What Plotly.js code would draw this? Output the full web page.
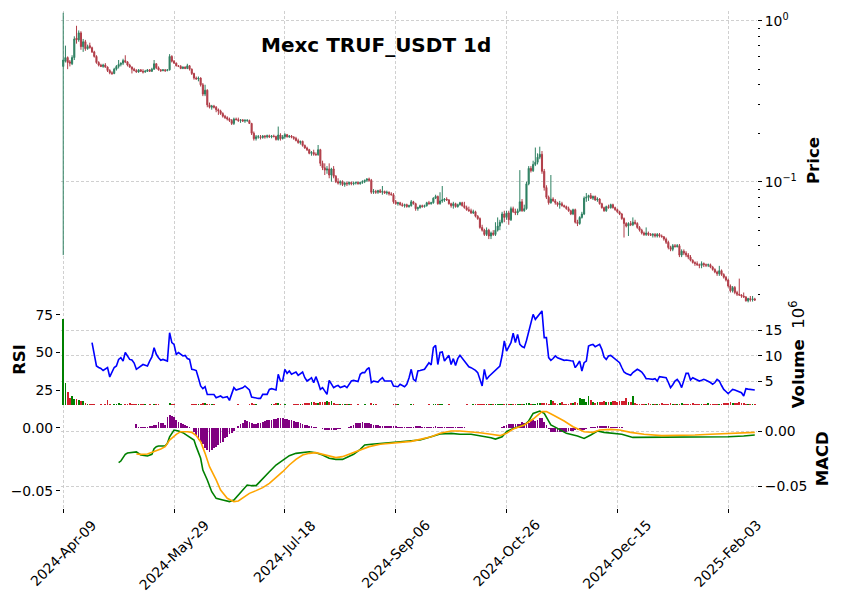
<!DOCTYPE html>
<html><head><meta charset="utf-8">
<script src="https://cdn.plot.ly/plotly-3.0.1.min.js"></script>
<style>html,body{margin:0;padding:0;background:#fff}#chart{width:841px;height:600px}</style>
</head><body><div id="chart"></div>
<script>
// ---------- data ----------
const tickDays = [0, 50, 100, 150, 200, 250, 300];
const tickLabels = ['2024-Apr-09','2024-May-29','2024-Jul-18','2024-Sep-06','2024-Oct-26','2024-Dec-15','2025-Feb-03'];

const opens = [
.52,.56,.59,.555,.54,.59,.78,.76,.84,.69,.74,.67,.70,.68,.64,.60,.55,.53,.52,.53,
.515,.49,.475,.47,.50,.52,.535,.545,.565,.555,.53,.515,.50,.49,.48,.495,.485,.48,.485,.495,
.485,.50,.54,.51,.495,.49,.495,.49,.495,.60,.56,.545,.525,.52,.505,.515,.505,.525,.50,.47,
.44,.435,.44,.40,.35,.37,.30,.29,.295,.29,.28,.275,.265,.255,.25,.245,.24,.23,.245,.243,
.24,.242,.238,.24,.24,.23,.20,.185,.19,.19,.188,.192,.19,.193,.19,.192,.191,.183,.195,.185,
.19,.196,.19,.192,.189,.186,.18,.175,.178,.168,.162,.158,.15,.152,.148,.147,.158,.13,.122,.118,
.12,.11,.12,.108,.10,.098,.10,.096,.098,.097,.099,.097,.098,.099,.097,.099,.10,.102,.104,.102,
.086,.087,.086,.088,.086,.087,.085,.086,.084,.083,.075,.073,.074,.072,.071,.072,.07,.071,.075,.073,
.068,.069,.071,.07,.071,.074,.073,.074,.079,.081,.073,.076,.077,.078,.077,.073,.071,.073,.07,.072,
.074,.071,.069,.067,.066,.064,.065,.061,.059,.052,.05,.047,.05,.046,.048,.047,.05,.053,.056,.063,
.06,.064,.058,.068,.065,.064,.066,.075,.066,.068,.097,.121,.117,.128,.132,.142,.148,.116,.092,.08,
.074,.078,.076,.074,.072,.073,.071,.07,.068,.066,.063,.067,.056,.055,.06,.063,.079,.08,.082,.079,
.081,.077,.078,.073,.069,.066,.07,.069,.072,.069,.067,.065,.063,.059,.055,.053,.055,.054,.056,.055,
.052,.05,.048,.047,.048,.047,.0465,.047,.046,.047,.046,.0455,.044,.042,.039,.038,.04,.0395,.04,.035,
.037,.036,.035,.034,.0325,.0315,.031,.0305,.0302,.031,.0305,.0303,.0305,.0295,.0285,.0275,.0268,.028,.0265,.0255,
.0245,.0225,.021,.022,.0205,.02,.0198,.0195,.0192,.0182,.0188,.0185,.0187];
const highs = [
1.12,.70,.60,.57,.61,.80,.93,.87,.86,.77,.76,.71,.73,.69,.65,.61,.56,.54,.54,.545,
.52,.50,.485,.51,.53,.57,.55,.58,.61,.56,.54,.52,.51,.50,.50,.50,.50,.495,.50,.50,
.51,.57,.545,.52,.50,.50,.50,.50,.62,.61,.57,.55,.53,.53,.52,.52,.54,.53,.505,.475,
.45,.45,.445,.41,.40,.375,.31,.30,.30,.295,.285,.28,.27,.26,.255,.25,.245,.25,.25,.25,
.245,.245,.245,.245,.243,.232,.205,.195,.195,.195,.195,.195,.196,.196,.195,.196,.193,.22,.20,.195,
.20,.198,.195,.195,.192,.19,.185,.18,.18,.17,.165,.16,.155,.158,.152,.169,.16,.135,.13,.125,
.13,.122,.125,.11,.105,.102,.102,.10,.10,.10,.10,.10,.10,.10,.10,.102,.103,.105,.106,.104,
.09,.089,.089,.09,.094,.088,.088,.087,.086,.085,.077,.075,.075,.074,.073,.073,.072,.077,.076,.074,
.07,.072,.072,.072,.075,.076,.075,.08,.083,.082,.086,.094,.079,.08,.078,.074,.075,.074,.073,.075,
.075,.075,.071,.07,.068,.067,.066,.062,.06,.054,.051,.052,.051,.049,.05,.056,.06,.058,.065,.066,
.066,.066,.07,.07,.068,.068,.118,.078,.072,.10,.125,.125,.135,.163,.15,.165,.155,.12,.095,.082,
.11,.08,.078,.075,.076,.075,.072,.071,.07,.067,.068,.068,.058,.061,.065,.081,.085,.083,.085,.082,
.082,.08,.079,.074,.07,.071,.072,.073,.073,.07,.068,.066,.064,.06,.056,.056,.057,.06,.058,.056,
.053,.051,.049,.052,.049,.048,.048,.048,.048,.048,.047,.046,.045,.043,.04,.041,.041,.041,.041,.038,
.038,.037,.036,.035,.033,.032,.032,.031,.032,.0315,.031,.031,.031,.03,.029,.028,.03,.0285,.027,.026,
.025,.023,.0225,.0225,.021,.025,.02,.0205,.0195,.019,.0195,.0195,.019];
const lows = [
.035,.55,.50,.52,.53,.57,.72,.74,.66,.64,.65,.66,.67,.63,.59,.54,.52,.515,.51,.51,
.48,.465,.46,.465,.49,.505,.52,.53,.545,.52,.51,.47,.485,.475,.475,.48,.47,.475,.48,.48,
.48,.495,.50,.49,.48,.485,.48,.485,.49,.55,.54,.52,.515,.50,.50,.50,.50,.49,.46,.43,
.43,.42,.39,.34,.34,.29,.285,.28,.285,.27,.26,.26,.25,.245,.24,.235,.225,.225,.24,.235,
.232,.235,.232,.235,.228,.195,.18,.18,.185,.183,.185,.185,.186,.187,.186,.188,.18,.18,.18,.183,
.185,.188,.187,.186,.182,.178,.172,.17,.165,.16,.155,.148,.145,.145,.145,.145,.125,.118,.11,.112,
.105,.10,.105,.098,.096,.095,.094,.093,.094,.095,.095,.095,.096,.096,.096,.097,.098,.10,.10,.084,
.084,.084,.084,.085,.083,.084,.083,.082,.082,.073,.072,.071,.071,.07,.069,.069,.069,.07,.072,.066,
.066,.068,.069,.069,.07,.072,.072,.073,.078,.072,.072,.074,.075,.076,.072,.069,.068,.069,.069,.071,
.07,.068,.066,.065,.063,.063,.06,.058,.051,.049,.046,.046,.044,.044,.046,.046,.049,.05,.055,.056,
.058,.054,.057,.064,.062,.062,.065,.065,.065,.067,.095,.114,.115,.125,.128,.138,.112,.088,.078,.072,
.073,.075,.072,.07,.068,.07,.069,.067,.065,.062,.062,.055,.053,.054,.059,.062,.075,.076,.078,.077,
.076,.075,.072,.068,.065,.065,.068,.068,.068,.066,.064,.062,.058,.045,.052,.046,.053,.053,.054,.051,
.049,.047,.046,.046,.046,.046,.045,.045,.045,.045,.045,.043,.041,.038,.037,.037,.039,.039,.034,.034,
.035,.034,.033,.032,.031,.03,.03,.029,.029,.0295,.0295,.0295,.029,.028,.027,.026,.026,.026,.025,.024,
.022,.0205,.0205,.02,.0195,.0195,.019,.019,.018,.0178,.018,.018,.0182];
const closes = [
.57,.59,.55,.545,.59,.77,.76,.84,.69,.74,.67,.69,.68,.64,.60,.55,.53,.52,.53,.515,
.49,.475,.47,.50,.52,.535,.545,.565,.555,.53,.515,.50,.49,.48,.495,.485,.48,.485,.495,.485,
.50,.54,.51,.495,.49,.495,.49,.495,.60,.56,.545,.525,.52,.505,.515,.505,.525,.50,.47,.44,
.435,.44,.40,.35,.37,.30,.29,.295,.29,.28,.275,.265,.255,.25,.245,.24,.23,.245,.243,.24,
.242,.238,.24,.24,.23,.20,.185,.19,.19,.188,.192,.19,.193,.19,.192,.191,.183,.195,.185,.19,
.196,.19,.192,.189,.186,.18,.175,.178,.168,.162,.158,.15,.152,.148,.147,.158,.13,.122,.118,.12,
.11,.12,.108,.10,.098,.10,.096,.098,.097,.099,.097,.098,.099,.097,.099,.10,.102,.104,.102,.086,
.087,.086,.088,.086,.087,.085,.086,.084,.083,.075,.073,.074,.072,.071,.072,.07,.071,.075,.073,.068,
.069,.071,.07,.071,.074,.073,.074,.079,.081,.073,.076,.077,.078,.077,.073,.071,.073,.07,.072,.074,
.071,.069,.067,.066,.064,.065,.061,.059,.052,.05,.047,.05,.046,.048,.047,.05,.053,.056,.063,.06,
.064,.058,.068,.065,.064,.066,.075,.066,.068,.097,.121,.117,.128,.132,.142,.148,.116,.092,.08,.074,
.078,.076,.074,.072,.073,.071,.07,.068,.066,.063,.067,.056,.055,.06,.063,.079,.08,.082,.079,.081,
.077,.078,.073,.069,.066,.07,.069,.072,.069,.067,.065,.063,.059,.055,.053,.055,.054,.056,.055,.052,
.05,.048,.047,.048,.047,.0465,.047,.046,.047,.046,.0455,.044,.042,.039,.038,.04,.0395,.04,.035,.037,
.036,.035,.034,.0325,.0315,.031,.0305,.0302,.031,.0305,.0303,.0305,.0295,.0285,.0275,.0268,.028,.0265,.0255,.0245,
.0225,.021,.022,.0205,.02,.0198,.0195,.0192,.0182,.0188,.0185,.0187,.0184];

const volumeM = [
17.3,4.7,2.9,1.6,2.1,1.4,1.5,1.2,1.0,1.0,0.6,0.5,0.45,
0.4,0.35,0.3,0.3,0.35,0.3,0.4,1.2,0.5,0.3,0.35,0.5,0.6,0.35,0.3,0.5,0.45,0.6,0.35,0.4,0.35,0.5,0.4,0.35,0.45,0.3,0.35,0.3,
0.4,0.5,0.35,0.3,0.28,0.3,0.3,0.6,0.45,0.35,0.3,0.28,0.3,0.3,0.28,0.3,0.3,0.35,0.4,0.35,0.45,0.5,0.6,0.55,0.5,0.45,0.4,0.35,0.3,0.28,0.3,0.3,0.28,0.3,0.3,0.28,0.3,0.3,0.35,0.3,
0.3,0.28,0.3,0.35,0.55,0.5,0.35,0.3,0.28,0.3,0.3,0.28,0.3,0.35,0.4,0.6,0.7,0.4,0.3,0.35,0.3,0.28,0.3,0.35,0.4,0.45,0.4,0.5,0.55,0.6,0.7,0.75,0.8,0.7,0.65,0.9,0.85,0.8,1.0,0.9,
1.0,0.6,0.5,0.45,0.4,0.35,0.4,0.35,0.4,0.35,0.3,0.3,0.35,0.3,0.3,0.35,0.3,0.3,0.6,0.4,0.35,0.3,0.3,0.28,0.3,0.3,0.28,0.3,0.5,0.4,0.35,0.3,0.28,0.3,0.3,0.28,0.35,0.4,0.3,0.3,
0.3,0.28,0.3,0.3,0.35,0.3,0.4,0.45,0.5,0.45,0.4,0.3,0.3,0.35,0.3,0.3,0.28,0.3,0.3,0.28,0.3,0.35,0.3,0.3,0.35,0.4,0.45,0.5,0.45,0.4,0.5,0.4,0.35,0.4,0.45,0.5,0.4,0.5,0.45,0.4,
0.45,0.5,0.4,0.35,0.4,0.5,0.45,0.4,0.6,0.7,0.5,0.45,0.5,0.6,0.55,0.6,0.7,0.6,0.5,1.2,1.0,0.6,0.5,0.6,0.8,0.5,0.45,0.5,0.6,0.7,0.8,0.7,1.6,1.4,1.4,0.8,2.0,1.3,0.8,0.7,
0.8,0.9,0.9,1.0,0.9,0.8,0.9,1.0,1.0,0.9,1.0,1.0,1.1,1.6,0.9,0.8,2.1,0.6,0.5,0.4,0.5,0.45,0.5,0.55,0.4,0.5,0.45,0.4,0.5,0.6,0.5,0.4,0.5,0.6,0.5,0.45,0.4,0.45,0.6,0.5,
0.45,0.4,0.5,0.6,0.45,0.4,0.5,0.45,0.4,0.5,0.6,0.5,0.45,0.4,0.5,0.45,0.5,0.6,0.7,0.7,0.8,0.7,0.6,0.7,0.8,0.6,0.7,0.5,0.4,0.5,0.45,0.4];

const rsiStart = 13;
const rsi = [
56.6,48,41,40,39.4,38,39,40,33.7,37, 40,41,45.4,46.6,44.3,50,47.5,45.4,45,43,
38.8,40,41,42,41.5,41,44.3,47,53.2,48.8, 46.5,44.8,45.4,45,44.3,63.2,56.6,55.4,48.8,50,
49,47.7,48.1,46,45.4,38.8,38.5,38,33,27.7, 25.9,27.2,22.1,22,22.1,22,19.9,20.5,21,19.9,
20.5,20.6,18.1,22,26.6,25,25.5,25.9,26.5,27.7, 26.5,25,20.3,20,19.4,19.4,19.4,22.1,22.1,22.1,
25.4,25.9,25.5,25,35.5,31,31,38.8,36.1,37.7, 35.5,36.2,37,34.8,36,37,33.2,31,32,33.2,
29.9,33.9,30,25.4,26.6,24,22.1,31.4,29,26.6, 27.5,28.1,26.6,27,27.7,26.6,29,31,31.4,31,
30.6,35.5,36.6,36.6,38.8,40,29.9,31,30.5,30.3, 32,33.2,31,31,31,31,27.7,27.5,27.2,28.8,
28,27.2,28.8,33,38.8,32.1,31,37.7,38,38.3, 38.8,41,43.2,41.7,53.2,54.8,42,50,50.3,44.3,
46.6,48.1,42,45.9,41.4,45.9,48.1,46,44.3,42, 40.5,39.9,39,38.1,36.6,32,27.7,38.8,32.1,34,
35.5,36.6,38,39.9,41,48,57.7,51,54,56.6, 62.8,56.6,62.1,55.4,54,53.2,58,63.2,69.9,75.4,
72.1,73.9,75.4,77.7,59.9,59.9,46.6,44.8,46,47.7, 46.5,45.9,45.3,44.8,45,45,44.5,44.3,39.9,42,
44.3,37.7,43.2,44.3,54.3,55,55.4,53.9,54.5,55.4, 52.1,47,45.4,47.7,48.1,47,45.9,44.5,43.2,40,
37,36,35.5,34.8,36.6,37.5,38.8,38,37,35, 32.6,32.5,32.3,32.1,32.6,31,33.9,33.5,33.3,33.2,
30,26.6,28.5,31,32.1,30,26.6,31,36.1,36.1, 31.7,33.2,32.5,31.5,31,31.5,32.1,31.5,31,30,
28.8,30,32.1,31,28,25.4,24,22.6,24,25.4, 25,24.3,23.8,23.2,21,25.9,25.6,25.3,25,25];

const macdDays = [25,26,27,28,29,30,32,33,35,38,40,41,42,43,46,47,48,50,52,54,56,59,60,62,63,65,67,69,72,75,77,79,81,83,85,87,88,90,93,96,99,102,105,108,111,114,117,120,123,126,128,131,134,136,139,143,148,152,157,161,166,170,175,179,184,188,193,195,198,200,203,208,210,212,215,217,220,223,227,232,235,238,241,244,248,252,257,262,270,277,285,292,300,307,312];
const macdVals = [-0.0288,-0.0273,-0.0242,-0.0212,-0.0200,-0.0197,-0.0194,-0.0190,-0.0218,-0.0227,-0.0212,-0.0160,-0.0142,-0.0136,-0.0136,-0.0112,-0.0052,0.0009,0.0,-0.0015,-0.0042,-0.0082,-0.0142,-0.0248,-0.0355,-0.0445,-0.0552,-0.0612,-0.0627,-0.0642,-0.0627,-0.0582,-0.0536,-0.0491,-0.0497,-0.0497,-0.0476,-0.043,-0.037,-0.0309,-0.0264,-0.0224,-0.0203,-0.0197,-0.0188,-0.0197,-0.0218,-0.0248,-0.0258,-0.0258,-0.0242,-0.0212,-0.0167,-0.0127,-0.0121,-0.0112,-0.0106,-0.0097,-0.0088,-0.0082,-0.0052,-0.0027,-0.0021,-0.003,-0.003,-0.0042,-0.0061,-0.0073,-0.0052,-0.0006,0.0024,0.0055,0.0091,0.016,0.0182,0.016,0.0055,0.0024,-0.0021,-0.0045,-0.0067,-0.0036,0.0,-0.0012,-0.0021,-0.003,-0.0058,-0.0058,-0.0058,-0.0058,-0.0052,-0.0052,-0.0052,-0.0045,-0.0036];
const signalDays = [33,35,38,41,44,46,48,51,53,56,58,60,62,64,66,69,71,74,77,79,81,84,87,90,93,96,99,102,105,108,111,114,117,120,123,126,129,132,135,138,143,148,152,157,161,166,170,175,179,184,188,193,197,200,203,208,212,216,218,221,226,230,235,239,242,247,251,256,262,270,277,285,292,300,307,312];
const signalVals = [-0.0209,-0.0212,-0.0209,-0.0188,-0.0164,-0.0142,-0.0082,-0.003,-0.0006,-0.0006,-0.0012,-0.0042,-0.0097,-0.0203,-0.0324,-0.0445,-0.0536,-0.0612,-0.0642,-0.0636,-0.0606,-0.0567,-0.0542,-0.0515,-0.0476,-0.0424,-0.037,-0.0309,-0.0258,-0.0218,-0.0203,-0.0197,-0.0212,-0.0233,-0.0242,-0.0233,-0.0212,-0.0188,-0.0167,-0.0142,-0.0121,-0.0112,-0.0103,-0.0094,-0.0076,-0.0052,-0.0021,0.0,0.0,-0.0006,-0.0015,-0.003,-0.0042,-0.0021,0.0018,0.0055,0.0109,0.0176,0.0176,0.0145,0.0091,0.0039,-0.0006,-0.0012,0.0009,0.0015,0.0009,-0.0012,-0.003,-0.0042,-0.0042,-0.0036,-0.003,-0.0024,-0.0015,-0.0012];

const histStart = 33;
const hist = [
.0029,.0005,.0005,.0004,.0005,.0006,.001,.0015,.002,.002,
.0048,.0034,.0034,.002,.0087,.0100,.0095,.0087,.006,.0048,
.0035,.0026,.002,.0016,.0008,-.0005,-.0035,-.0058,-.0098,-.0115,
-.0132,-.0164,-.018,-.019,-.0177,-.016,-.0151,-.0135,-.0124,-.011,
-.0085,-.007,-.0053,-.004,-.0026,-.0005,.0015,.0026,.004,.006,
.0055,.0048,.0035,.0026,.003,.0034,.004,.0048,.0052,.0058,
.006,.0065,.0069,.0072,.0074,.0074,.0074,.0072,.0069,.0065,
.006,.0055,.0048,.0042,.0034,.003,.0025,.002,.0015,.0011,
.0008,.0004,0,-.0005,-.001,-.0015,-.0019,-.002,-.002,-.0019,
-.0016,-.0013,-.001,-.0006,-.0003,0,.0008,.0016,.0025,.0034,
.0038,.0041,.0042,.0041,.0038,.0034,.003,.0025,.002,.0018,
.0015,.0013,.0012,.0011,.001,.001,.001,.001,.0009,.0009,
.0009,.0009,.0008,.0008,.0008,.0009,.001,.001,.001,.0009,
.0009,.0008,.0008,.0008,.0009,.001,.0009,.0008,.0007,.0006,
.0005,.0005,.0005,.0005,.0005,.0004,.0004,.0003,.0002,.0001,
-.0002,-.0003,-.0004,-.0004,-.0004,-.0005,-.0005,-.0004,-.0004,-.0005,
-.0005,-.0005,-.0004,-.0003,-.0002,.0005,.0016,.002,.0026,.0026,
.0026,.003,.0026,.003,.0042,.004,.0045,.004,.006,.006,
.0055,.006,.0074,.0074,.0048,.002,-.001,-.0032,-.0035,-.0037,
-.0037,-.0037,-.0035,-.0033,-.003,-.0028,-.0026,-.0024,-.0022,-.002,
-.0019,-.0019,-.0015,-.001,-.0005,.0005,.0008,.0008,.001,.0014,
.0016,.0016,.0016,.0012,.0008,.0005,.0005,.0004,.0004,.0003,
-.0003,-.0005,-.0005,-.0005,-.0005,-.0005,-.0005,-.0005,-.0005,-.0005,
-.0005,-.0005,-.0005,-.0005,-.0004,-.0003];

// ---------- chart ----------
const UP = '#2e8062', DOWN = '#b13d48';
const VUP = '#008000', VDOWN = '#d0202c';
const days = closes.map((_, i) => i);
const rsiDays = rsi.map((_, i) => i + rsiStart);
const histDays = hist.map((_, i) => i + histStart);
const volColors = days.map(i => closes[i] >= opens[i] ? VUP : VDOWN);

const FONT = 'DejaVu Sans';
const GRID = '#c4c4c4';
const TICK_SIZE = 13.9;
const tickFont = {family: FONT, size: TICK_SIZE, color: '#000'};
const labelFont = {family: FONT, size: 16.5, color: '#000'};

const traces = [
  {type: 'candlestick', x: days, open: opens, high: highs, low: lows, close: closes,
   xaxis: 'x', yaxis: 'y', whiskerwidth: 0,
   increasing: {line: {color: UP, width: 1}, fillcolor: UP},
   decreasing: {line: {color: DOWN, width: 1}, fillcolor: DOWN},
   hoverinfo: 'skip', showlegend: false},
  {type: 'bar', x: days, y: volumeM, xaxis: 'x2', yaxis: 'y2', width: 0.8,
   marker: {color: volColors, line: {width: 0}}, hoverinfo: 'skip', showlegend: false},
  {type: 'scatter', mode: 'lines', x: rsiDays, y: rsi, xaxis: 'x2', yaxis: 'y3',
   line: {color: '#0000ff', width: 1.6}, hoverinfo: 'skip', showlegend: false},
  {type: 'bar', x: histDays, y: hist, xaxis: 'x3', yaxis: 'y4', width: 0.8,
   marker: {color: '#800080', line: {width: 0}}, hoverinfo: 'skip', showlegend: false},
  {type: 'scatter', mode: 'lines', x: macdDays, y: macdVals, xaxis: 'x3', yaxis: 'y5',
   line: {color: '#008000', width: 1.6}, hoverinfo: 'skip', showlegend: false},
  {type: 'scatter', mode: 'lines', x: signalDays, y: signalVals, xaxis: 'x3', yaxis: 'y5',
   line: {color: '#ffa500', width: 1.6}, hoverinfo: 'skip', showlegend: false}
];

const xBase = {range: [-1, 313], tickvals: tickDays, showgrid: true, gridcolor: GRID, griddash: '3px,2px',
  gridwidth: 0.8, zeroline: false, showline: false, fixedrange: true, rangeslider: {visible: false}};
const minorPrice = [0.02,0.03,0.04,0.05,0.06,0.07,0.08,0.09,0.2,0.3,0.4,0.5,0.6,0.7,0.8,0.9];

// rotated date labels, centred under each tick like matplotlib (ha='center', rotation=45)
const dateLabels = tickDays.map((d, k) => ({
  text: tickLabels[k], xref: 'x3', yref: 'paper', x: d, y: -0.0145,
  xanchor: 'center', yanchor: 'top', textangle: -45, showarrow: false,
  font: tickFont, borderpad: 0
}));

const layout = {
  width: 841, height: 600,
  margin: {l: 61, r: 84, t: 11, b: 92, pad: 0},
  paper_bgcolor: '#fff', plot_bgcolor: '#fff',
  font: {family: FONT, color: '#000'},
  showlegend: false, bargap: 0,
  xaxis: Object.assign({}, xBase, {anchor: 'y', showticklabels: false, ticks: ''}),
  xaxis2: Object.assign({}, xBase, {anchor: 'y2', showticklabels: false, ticks: '', matches: 'x'}),
  xaxis3: Object.assign({}, xBase, {anchor: 'y4', matches: 'x', showticklabels: false,
    ticks: 'outside', ticklen: 4, tickcolor: '#000'}),
  yaxis: {domain: [0.4125, 1], type: 'log', range: [-1.7534, 0.0602], side: 'right', anchor: 'x',
    tickvals: [0.1, 1], ticktext: ['10<sup>\u22121</sup>', '10<sup>0</sup>'], tickfont: tickFont,
    ticks: 'outside', ticklen: 4, tickcolor: '#000',
    minor: {tickmode: 'array', tickvals: minorPrice, ticks: 'outside', ticklen: 2, tickcolor: '#000', showgrid: false},
    showgrid: true, gridcolor: GRID, griddash: '3px,2px', gridwidth: 0.8, zeroline: false, fixedrange: true},
  yaxis2: {domain: [0.2072, 0.4125], range: [0.238, 20.48], side: 'right', anchor: 'x2',
    tickvals: [5, 10, 15], tickfont: tickFont, ticks: 'outside', ticklen: 4, tickcolor: '#000',
    showgrid: true, gridcolor: GRID, griddash: '3px,2px', gridwidth: 0.8, zeroline: false, fixedrange: true},
  yaxis3: {overlaying: 'y2', range: [15, 83], side: 'left', anchor: 'x2',
    tickvals: [25, 50, 75], tickfont: tickFont, ticks: 'outside', ticklen: 4, tickcolor: '#000',
    showgrid: false, zeroline: false, fixedrange: true},
  yaxis4: {domain: [0, 0.2072], range: [-0.06373, 0.01802], side: 'left', anchor: 'x3',
    tickvals: [0, -0.05], ticktext: ['0.00', '\u22120.05'], tickfont: tickFont, ticks: 'outside', ticklen: 4, tickcolor: '#000',
    showgrid: false, zeroline: false, fixedrange: true},
  yaxis5: {overlaying: 'y4', range: [-0.07, 0.02364], side: 'right', anchor: 'x3',
    tickvals: [0, -0.05], ticktext: ['0.00', '\u22120.05'], tickfont: tickFont, ticks: 'outside', ticklen: 4, tickcolor: '#000',
    showgrid: true, gridcolor: GRID, griddash: '3px,2px', gridwidth: 0.8, zeroline: false, fixedrange: true},
  annotations: [
    {text: '<b>Mexc TRUF_USDT 1d</b>', xref: 'paper', yref: 'paper', x: 0.4523, y: 0.9306,
     xanchor: 'center', yanchor: 'middle', showarrow: false, font: {family: FONT, size: 20, color: '#000'}},
    {text: '<b>Price</b>', xref: 'paper', yref: 'paper', x: 1.081, y: 0.699, textangle: -90,
     xanchor: 'center', yanchor: 'middle', showarrow: false, font: labelFont},
    {text: '<b>Volume</b>  10<sup>6</sup>', xref: 'paper', yref: 'paper', x: 1.058, y: 0.31, textangle: -90,
     xanchor: 'center', yanchor: 'middle', showarrow: false, font: labelFont},
    {text: '<b>MACD</b>', xref: 'paper', yref: 'paper', x: 1.094, y: 0.099, textangle: -90,
     xanchor: 'center', yanchor: 'middle', showarrow: false, font: labelFont},
    {text: '<b>RSI</b>', xref: 'paper', yref: 'paper', x: -0.059, y: 0.30, textangle: -90,
     xanchor: 'center', yanchor: 'middle', showarrow: false, font: labelFont}
  ].concat(dateLabels)
};

Plotly.newPlot('chart', traces, layout, {staticPlot: true, displayModeBar: false});
</script>
</body></html>
